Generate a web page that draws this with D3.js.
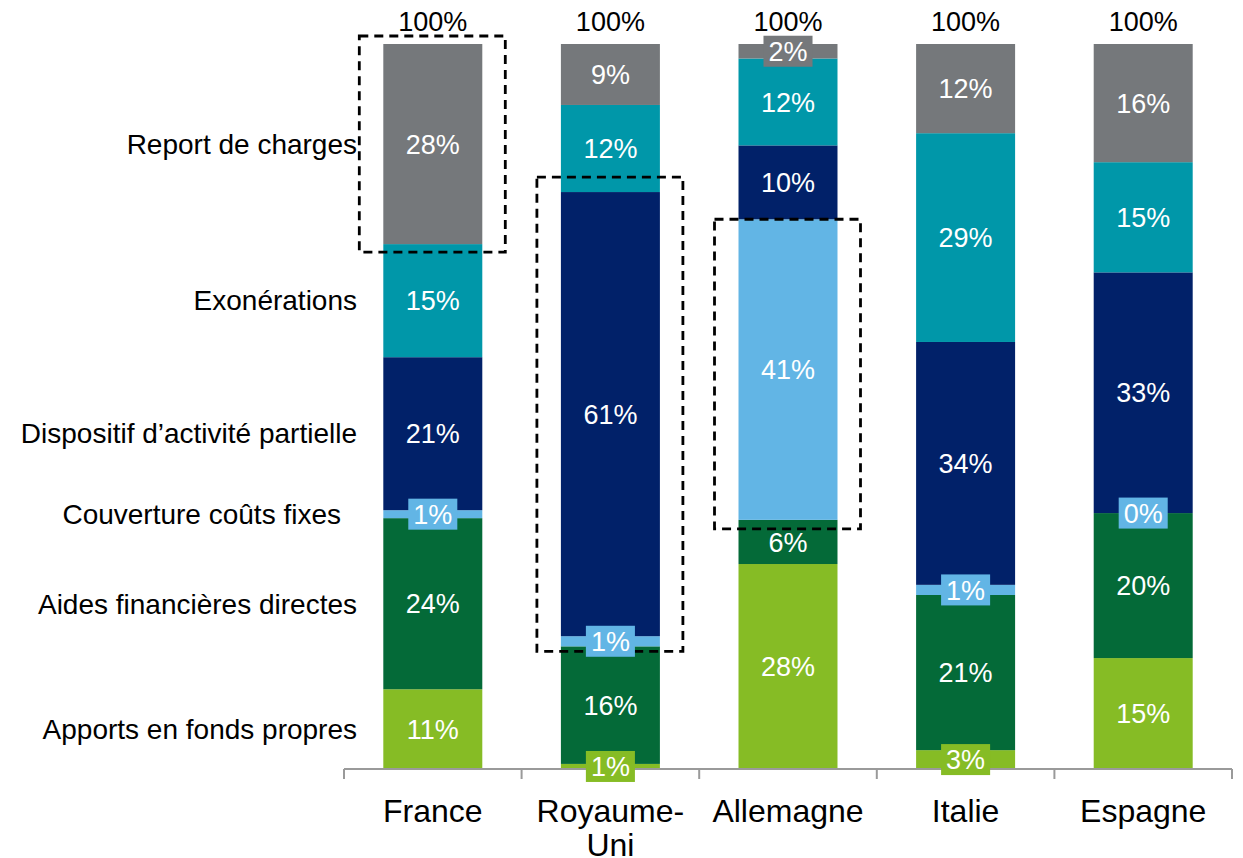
<!DOCTYPE html>
<html>
<head>
<meta charset="utf-8">
<script src="https://cdn.jsdelivr.net/npm/d3@7"></script>
<style>
  body { margin: 0; background: #fff; }
  svg { display: block; font-family: Arial, "Liberation Sans", sans-serif; }
</style>
</head>
<body>
<div id="chart"></div>
<script>
// countries and measure categories (bottom to top of each stack)
var countries = ["France", "Royaume-Uni", "Allemagne", "Italie", "Espagne"];
var series = ["Apports en fonds propres", "Aides financières directes", "Couverture coûts fixes",
              "Dispositif d\u2019activité partielle", "Exonérations", "Report de charges"];

// shares (percent)
var apports     = [11.0,  0.7, 28.3,  2.6, 15.3];
var aides       = [23.6, 16.2,  6.1, 21.4, 20.0];
var couverture  = [ 1.1,  1.4, 41.5,  1.4,  0.0];
var dispositif  = [21.1, 61.2, 10.2, 33.5, 33.2];
var exonerations= [15.6, 12.0, 12.0, 28.8, 15.2];
var report      = [27.6,  8.4,  2.0, 12.3, 16.3];

// labels as printed on the chart
var apportsLbl    = ["11%", "1%", "28%", "3%", "15%"];
var aidesLbl      = ["24%", "16%", "6%", "21%", "20%"];
var couvertureLbl = ["1%", "1%", "41%", "1%", "0%"];
var dispositifLbl = ["21%", "61%", "10%", "34%", "33%"];
var exoLbl        = ["15%", "12%", "12%", "29%", "15%"];
var reportLbl     = ["28%", "9%", "2%", "12%", "16%"];
var totalLbl      = ["100%", "100%", "100%", "100%", "100%"];

// dashed frames: country and range of series
var highlights = [
  { country: "France", from: "Report de charges", to: "Report de charges" },
  { country: "Royaume-Uni", from: "Couverture coûts fixes", to: "Dispositif d\u2019activité partielle" },
  { country: "Allemagne", from: "Couverture coûts fixes", to: "Couverture coûts fixes" }
];

var colors = ["#86BC25", "#046A38", "#62B5E5", "#012169", "#0097A9", "#75787B"];
var values = [apports, aides, couverture, dispositif, exonerations, report];
var labels = [apportsLbl, aidesLbl, couvertureLbl, dispositifLbl, exoLbl, reportLbl];

var width = 1243, height = 858;

var table = countries.map(function(c, i) {
  var row = { country: c };
  series.forEach(function(s, k) { row[s] = values[k][i]; });
  return row;
});

var stacked = d3.stack().keys(series).offset(d3.stackOffsetExpand)(table);

var x = d3.scaleBand().domain(countries).range([344, 1232])
  .paddingInner(0.4426).paddingOuter(0.2213);
var y = d3.scaleLinear().domain([0, 1]).range([769, 44]);
var color = d3.scaleOrdinal().domain(series).range(colors);

var svg = d3.select("#chart").append("svg")
  .attr("width", width).attr("height", height);

// bars
var layer = svg.selectAll("g.layer").data(stacked).enter().append("g")
  .attr("class", "layer")
  .attr("fill", function(d) { return color(d.key); });

layer.selectAll("rect").data(function(d) { return d; }).enter().append("rect")
  .attr("x", function(d) { return x(d.data.country); })
  .attr("width", x.bandwidth())
  .attr("y", function(d) { return y(d[1]); })
  .attr("height", function(d) { return y(d[0]) - y(d[1]); });

// axis
var axis = svg.append("g").attr("transform", "translate(0,769)")
  .call(d3.axisBottom(x).tickSize(0).tickFormat(""));
axis.select(".domain").remove();
axis.append("line").attr("x1", 344).attr("x2", 1232)
  .attr("stroke", "#9a9a9a").attr("stroke-width", 2);
var bounds = countries.map(function(c) { return x(c) - x.step() * x.paddingInner() / 2; });
bounds.push(x.range()[1]);
axis.selectAll("line.tk").data(bounds).enter().append("line")
  .attr("class", "tk")
  .attr("x1", function(d) { return d; }).attr("x2", function(d) { return d; })
  .attr("y1", 0).attr("y2", 10)
  .attr("stroke", "#9a9a9a").attr("stroke-width", 2);

// country labels
svg.selectAll("text.country").data(countries).enter().append("text")
  .attr("class", "country")
  .attr("text-anchor", "middle")
  .attr("font-size", 32)
  .attr("fill", "#000")
  .attr("y", 822)
  .each(function(c) {
    var cut = c.indexOf("-");
    var parts = cut > 0 ? [c.slice(0, cut + 1), c.slice(cut + 1)] : [c];
    var t = d3.select(this);
    parts.forEach(function(p, i) {
      t.append("tspan").attr("x", x(c) + x.bandwidth() / 2)
        .attr("dy", i === 0 ? 0 : 34).text(p);
    });
  });

// dashed frames
var boxPad = [[8, 8], [15, 5], [0, 9]];
highlights.forEach(function(h, i) {
  var ci = countries.indexOf(h.country);
  var lo = stacked[series.indexOf(h.from)][ci][0];
  var hi = stacked[series.indexOf(h.to)][ci][1];
  var x0 = x(h.country) - 24, x1 = x(h.country) + x.bandwidth() + 23;
  svg.append("rect")
    .attr("x", x0).attr("width", x1 - x0)
    .attr("y", y(hi) - boxPad[i][0])
    .attr("height", y(lo) - y(hi) + boxPad[i][0] + boxPad[i][1])
    .attr("fill", "none").attr("stroke", "#000")
    .attr("stroke-width", 2.8).attr("stroke-dasharray", "9,6");
});

// segment labels
stacked.forEach(function(s, k) {
  s.forEach(function(d, i) {
    var cx = x(d.data.country) + x.bandwidth() / 2;
    var cy = (y(d[0]) + y(d[1])) / 2;
    var small = values[k][i] < 3.5;
    var g = svg.append("g");
    var t = g.append("text")
      .attr("x", cx).attr("y", cy).attr("dy", "0.36em")
      .attr("text-anchor", "middle")
      .attr("font-size", 27)
      .attr("fill", "#fff")
      .text(labels[k][i]);
    if (small) {
      var w = t.node().getBBox().width + 10;
      g.insert("rect", "text")
        .attr("x", cx - w / 2).attr("width", w)
        .attr("y", cy - 15.5).attr("height", 31)
        .attr("fill", color(s.key));
    }
  });
});

// totals on top
svg.selectAll("text.total").data(countries).enter().append("text")
  .attr("class", "total")
  .attr("x", function(c) { return x(c) + x.bandwidth() / 2; })
  .attr("y", y(1) - 13.5)
  .attr("text-anchor", "middle")
  .attr("font-size", 27)
  .attr("fill", "#000")
  .text(function(c, i) { return totalLbl[i]; });

// series names on the left, next to the France bar
svg.selectAll("text.series").data(stacked).enter().append("text")
  .attr("class", "series")
  .attr("x", 357)
  .attr("dx", function(s) { return s.key === "Couverture coûts fixes" ? -16 : 0; })
  .attr("y", function(s) { return (y(s[0][0]) + y(s[0][1])) / 2; })
  .attr("dy", "0.35em")
  .attr("text-anchor", "end")
  .attr("font-size", 28)
  .attr("fill", "#000")
  .text(function(s) { return s.key; });
</script>
</body>
</html>
